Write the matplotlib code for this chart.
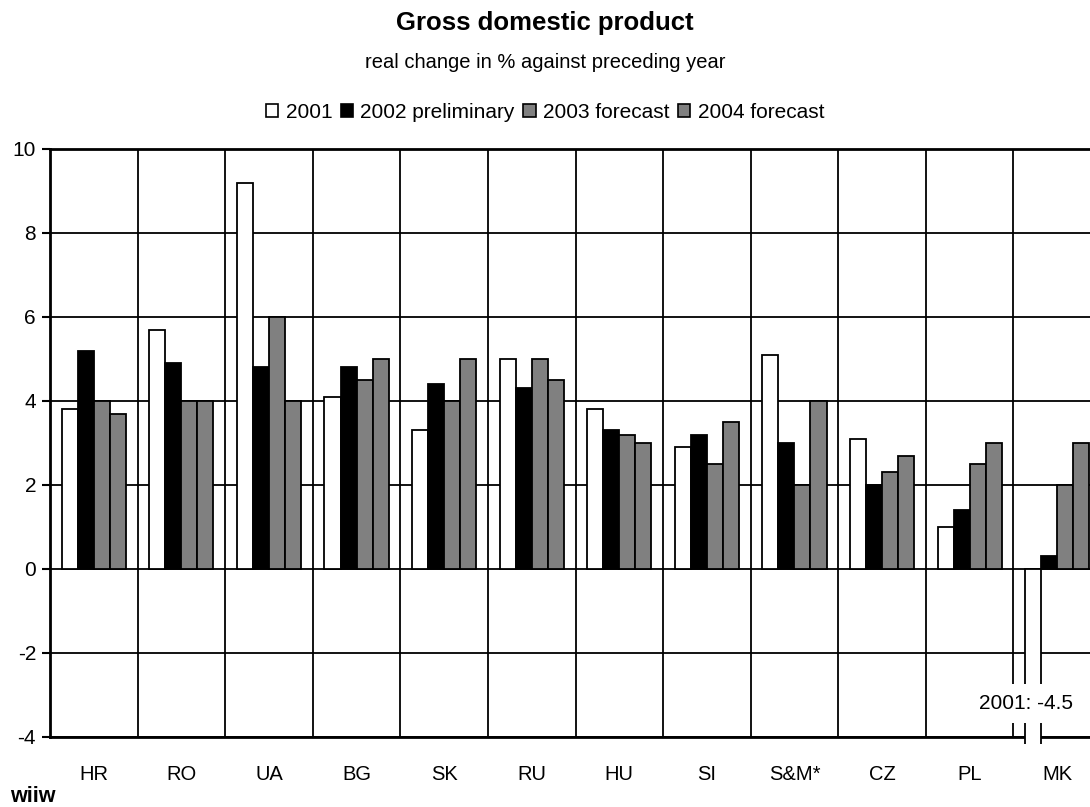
import matplotlib
matplotlib.use('Agg')
import matplotlib.pyplot as plt
import numpy as np
from matplotlib.patches import Patch
from matplotlib.transforms import Bbox, TransformedBbox

plt.rcParams['font.family'] = ['Liberation Sans', 'DejaVu Sans']
plt.rcParams['axes.unicode_minus'] = False

countries = ['HR', 'RO', 'UA', 'BG', 'SK', 'RU', 'HU', 'SI', 'S&M*', 'CZ', 'PL', 'MK']
series_names = ['2001', '2002 preliminary', '2003 forecast', '2004 forecast']
gdp_2001 = [3.8, 5.7, 9.2, 4.1, 3.3, 5.0, 3.8, 2.9, 5.1, 3.1, 1.0, -4.5]
gdp_2002 = [5.2, 4.9, 4.8, 4.8, 4.4, 4.3, 3.3, 3.2, 3.0, 2.0, 1.4, 0.3]
gdp_2003 = [4.0, 4.0, 6.0, 4.5, 4.0, 5.0, 3.2, 2.5, 2.0, 2.3, 2.5, 2.0]
gdp_2004 = [3.7, 4.0, 4.0, 5.0, 5.0, 4.5, 3.0, 3.5, 4.0, 2.7, 3.0, 3.0]
colors = ['white', 'black', '#808080', '#808080']

fig = plt.figure(figsize=(10.9, 8.07), dpi=100)
# right edge of the plot runs past the picture, as in the original
ax = fig.add_axes([50/1090, 1 - 737/807, 1051/1090, 588/807])

x = np.arange(len(countries))
w = 0.183
series = [gdp_2001, gdp_2002, gdp_2003, gdp_2004]
bars = []
for i, vals in enumerate(series):
    b = ax.bar(x + (i - 1.5)*w, vals, w, color=colors[i], edgecolor='black',
               linewidth=1.3, zorder=3)
    bars.append(b)

ax.set_xlim(-0.5, len(countries) - 0.5)
ax.set_ylim(-4, 10)
ax.set_yticks(np.arange(-4, 11, 2))
ax.set_xticks(x)
ax.set_xticklabels(countries)
ax.set_xticks(np.arange(-0.5, len(countries), 1), minor=True)
ax.tick_params(axis='x', which='both', length=0, labelsize=14.5, pad=20)
ax.tick_params(axis='y', length=6, width=1.5, labelsize=15, direction='out', pad=4)
ax.grid(axis='y', which='major', color='black', linewidth=1.3)
ax.grid(axis='x', which='minor', color='black', linewidth=1.3)
ax.set_axisbelow(True)
for s in ['left', 'bottom', 'top']:
    ax.spines[s].set_linewidth(2)
ax.spines['right'].set_visible(False)

# MK 2001 is off the scale: let the bar poke just below the axis
mk_bar = bars[0][-1]
mk_bar.set_zorder(4)
mk_bar.set_clip_box(TransformedBbox(Bbox([[10.5, -4.17], [11.5, 0.5]]), ax.transData))
mk_bar.set_clip_on(True)
ax.text(10.64, -3.2, '2001: -4.5', ha='center', va='center', fontsize=15, zorder=5,
        bbox=dict(facecolor='white', edgecolor='none', pad=7))

fig.text(0.5, 1 - 23/807, 'Gross domestic product', ha='center', va='center',
         fontsize=18.5, fontweight='bold')
fig.text(0.5, 1 - 63/807, 'real change in % against preceding year', ha='center',
         va='center', fontsize=14.5)
handles = [Patch(facecolor=c, edgecolor='black', linewidth=1.2) for c in colors]
fig.legend(handles, series_names, loc='center', bbox_to_anchor=(0.5, 1 - 112/807),
           ncol=4, frameon=False, fontsize=15, handlelength=0.6, handleheight=0.6,
           handletextpad=0.35, columnspacing=0.4)
fig.text(10/1090, 1 - 797/807, 'wiiw', ha='left', va='center', fontsize=15.5,
         fontweight='bold')

fig.savefig('out.png', dpi=100)
